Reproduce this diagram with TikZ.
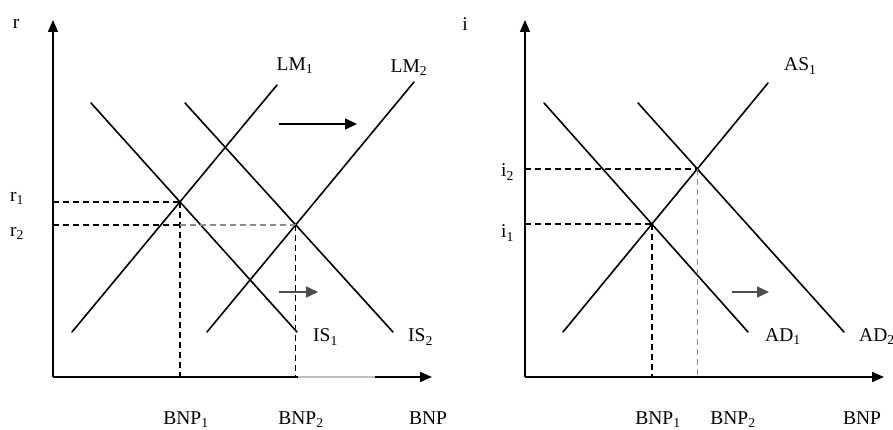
\documentclass[tikz,border=0pt]{standalone}
\usepackage{fontspec}
\setmainfont{Liberation Serif}
\usetikzlibrary{arrows.meta,intersections}
\begin{document}
\begin{tikzpicture}[x=1pt,y=-1pt,
  curve/.style={line width=1.6pt,line cap=round},
  axisline/.style={line width=1.6pt},
  axis/.style={line width=1.6pt,-{Triangle[length=12pt,width=10pt]}},
  guide/.style={line width=1.3pt,dash pattern=on 6pt off 4pt},
  guidegray/.style={guide,draw=black!45},
  shiftarrow/.style={line width=1.6pt,-{Triangle[length=12pt,width=11pt]}},
  lbl/.style={font=\fontsize{19.5}{19.5}\selectfont,inner sep=0pt}]
\useasboundingbox[fill=white] (0,0) rectangle (893,430);

% ---------------- left panel: IS-LM ----------------
\coordinate (O1) at (53,377);
\coordinate (Y1) at (53,20);
\coordinate (X1) at (432,377);
\coordinate (X1g) at (298,377);
\coordinate (X1b) at (375,377);
\draw[axis] (O1) -- (Y1);
\draw[axisline] (O1) -- (X1g);
\draw[axisline,draw=black!25] (X1g) -- (X1b);
\draw[axis] (X1b) -- (X1);

\coordinate (LM1a) at (72,332);  \coordinate (LM1b) at (277,85);
\coordinate (LM2a) at (207,332); \coordinate (LM2b) at (414,82);
\coordinate (IS1a) at (91,103);  \coordinate (IS1b) at (297,332);
\coordinate (IS2a) at (185,103); \coordinate (IS2b) at (393,332);
\draw[curve,name path=lm1] (LM1a) -- (LM1b);
\draw[curve,name path=lm2] (LM2a) -- (LM2b);
\draw[curve,name path=is1] (IS1a) -- (IS1b);
\draw[curve,name path=is2] (IS2a) -- (IS2b);
\path[name intersections={of=lm1 and is1,by=E1}];
\path[name intersections={of=lm2 and is2,by=E2}];

\draw[guide] (E1 -| O1) -- (E1);
\draw[guide] (E1) -- (E1 |- O1);
\coordinate (E2m) at (E1 |- E2);
\draw[guide] (E2 -| O1) -- (E2m);
\draw[guidegray] (E2m) -- (E2);
\draw[guide] (E2) -- (E2 |- O1);

\coordinate (A1s) at (279,124); \coordinate (A1e) at (357,124);
\draw[shiftarrow] (A1s) -- (A1e);
\coordinate (A2s) at (279,292); \coordinate (A2e) at (318,292);
\draw[shiftarrow,draw=black!70] (A2s) -- (A2e);

\node[lbl] (r) at (16,24) {r};
\node[lbl,anchor=west] (r1) at (10,198) {r\textsubscript{1}};
\node[lbl,anchor=west] (r2) at (10,233) {r\textsubscript{2}};
\node[lbl] (lm1l) at (295,66) {LM\textsubscript{1}};
\node[lbl] (lm2l) at (409,68) {LM\textsubscript{2}};
\node[lbl,anchor=west] (is1l) at (313,337) {IS\textsubscript{1}};
\node[lbl,anchor=west] (is2l) at (408,337) {IS\textsubscript{2}};
\node[lbl,anchor=base] (bnp1l) at (186,424) {BNP\textsubscript{1}};
\node[lbl,anchor=base] (bnp2l) at (301,424) {BNP\textsubscript{2}};
\node[lbl,anchor=base] (bnpl) at (428,424) {BNP};

% ---------------- right panel: AS-AD ----------------
\coordinate (O2) at (525,377);
\coordinate (Y2) at (525,20);
\coordinate (X2) at (884,377);
\draw[axis] (O2) -- (Y2);
\draw[axis] (O2) -- (X2);

\coordinate (AS1a) at (563,332); \coordinate (AS1b) at (768,83);
\coordinate (AD1a) at (544,103); \coordinate (AD1b) at (748,332);
\coordinate (AD2a) at (638,103); \coordinate (AD2b) at (844,332);
\draw[curve,name path=as1] (AS1a) -- (AS1b);
\draw[curve,name path=ad1] (AD1a) -- (AD1b);
\draw[curve,name path=ad2] (AD2a) -- (AD2b);
\path[name intersections={of=as1 and ad1,by=F1}];
\path[name intersections={of=as1 and ad2,by=F2}];

\draw[guide] (F1 -| O2) -- (F1);
\draw[guide] (F1) -- (F1 |- O2);
\draw[guide] (F2 -| O2) -- (F2);
\draw[guidegray] (F2) -- (F2 |- O2);

\coordinate (A3s) at (732,292); \coordinate (A3e) at (769,292);
\draw[shiftarrow,draw=black!70] (A3s) -- (A3e);

\node[lbl] (il) at (465,24) {i};
\node[lbl,anchor=west] (i2) at (501,172) {i\textsubscript{2}};
\node[lbl,anchor=west] (i1) at (501,233) {i\textsubscript{1}};
\node[lbl,anchor=west] (as1l) at (784,66) {AS\textsubscript{1}};
\node[lbl,anchor=west] (ad1l) at (765,337) {AD\textsubscript{1}};
\node[lbl,anchor=west] (ad2l) at (859,337) {AD\textsubscript{2}};
\node[lbl,anchor=base] (bnp1r) at (658,424) {BNP\textsubscript{1}};
\node[lbl,anchor=base] (bnp2r) at (733,424) {BNP\textsubscript{2}};
\node[lbl,anchor=base] (bnpr) at (862,424) {BNP};
\end{tikzpicture}
\end{document}
